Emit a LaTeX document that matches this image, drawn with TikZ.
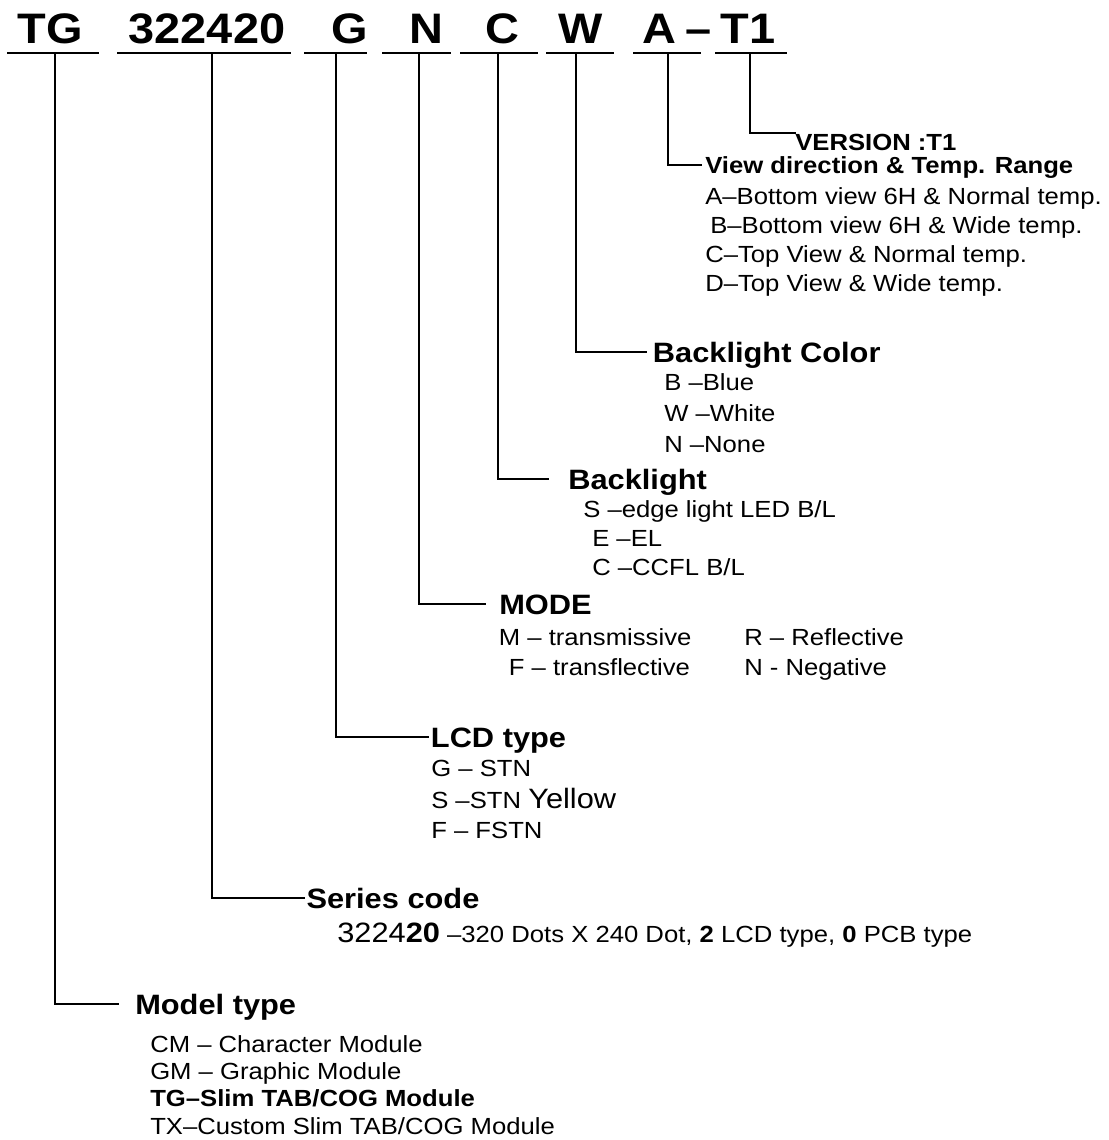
\documentclass[tikz,border=0pt]{standalone}
\usepackage{fontspec}
\setmainfont[FakeStretch=1.1]{Liberation Sans}
\usetikzlibrary{positioning,calc}

\begin{document}
\begin{tikzpicture}[x=0.75pt, y=-0.75pt,
        codeChar/.style={anchor=base, inner sep=0pt, font=\bfseries\fontsize{32}{36}\selectfont},
        bigHead/.style={anchor=west, inner ysep=0pt, text height=15pt, text depth=0pt, font=\bfseries\fontsize{21}{24}\selectfont},
        smallHead/.style={anchor=west, inner ysep=0pt, text height=12.5pt, text depth=0pt, font=\bfseries\fontsize{17.5}{21}\selectfont},
        optList/.style={anchor=base west, inner sep=0pt, align=left, font=\fontsize{17.5}{22}\selectfont},
        rule/.style={line width=1.5pt, line cap=rect}
    ]
        \useasboundingbox (0,0) rectangle (1109,1140);

        % Part number
        \node[codeChar] (cTG) at (50.5,43) {TG};
        \node[codeChar] (cSeries) at (207,43) {322420};
        \node[codeChar] (cLcd) at (350,43) {G};
        \node[codeChar] (cMode) at (426,43) {N};
        \node[codeChar] (cBl) at (502.5,43) {C};
        \node[codeChar] (cColor) at (581,43) {W};
        \node[codeChar] (cView) at (659.5,43) {A};
        \node[codeChar] (cDash) at (699,43) {–};
        \node[codeChar] (cVer) at (748,43) {T1};

        % Underlines
        \draw[rule] (8,53) -- (98,53);
        \draw[rule] (118,53) -- (290,53);
        \draw[rule] (305,53) -- (366,53);
        \draw[rule] (383,53) -- (450,53);
        \draw[rule] (461,53) -- (537,53);
        \draw[rule] (547,53) -- (613,53);
        \draw[rule] (634,53) -- (700,53);
        \draw[rule] (716,53) -- (786,53);
        \coordinate (tapTG) at (55,53);
        \coordinate (tapSeries) at (212,53);
        \coordinate (tapLcd) at (336,53);
        \coordinate (tapMode) at (419,53);
        \coordinate (tapBl) at (498,53);
        \coordinate (tapColor) at (576,53);
        \coordinate (tapView) at (668,53);
        \coordinate (tapVer) at (750,53);

        % Version (lists are placed by the baseline of their last line)
        \node[smallHead, inner xsep=0pt] (ver) at (795,142) {VERSION :T1};

        % View direction
        \node[smallHead, inner xsep=3pt] (view) at (701,165) {View direction \& Temp. Range};
        \node[optList, font=\fontsize{17.5}{21.75}\selectfont] (viewOpt) at (705,291) {
            A–Bottom view 6H \& Normal temp.\\
            \hspace*{3.75pt}B–Bottom view 6H \& Wide temp.\\
            C–Top View \& Normal temp.\\
            D–Top View \& Wide temp.
        };

        % Backlight colour
        \node[bigHead, inner xsep=5pt] (color) at (646,352) {Backlight Color};
        \node[optList, font=\fontsize{17.5}{23.25}\selectfont] (colorOpt) at (664,452) {
            B –Blue\\
            W –White\\
            N –None
        };

        % Backlight
        \node[bigHead, inner xsep=15pt] (bl) at (548,479) {Backlight};
        \node[optList, font=\fontsize{17.5}{21.75}\selectfont] (blOpt) at (583,575.5) {
            S –edge light LED B/L\\
            \hspace*{6.75pt}E –EL\\
            \hspace*{6.75pt}C –CCFL B/L
        };

        % Mode
        \node[bigHead, inner xsep=10.5pt] (mode) at (485,604) {MODE};
        \node[optList, font=\fontsize{17.5}{22.5}\selectfont] (modeOptL) at (498.6,675) {
            M – transmissive\\
            \hspace*{7.5pt}F – transflective
        };
        \node[optList, font=\fontsize{17.5}{22.5}\selectfont] (modeOptR) at (744,675) {
            R – Reflective\\
            N - Negative
        };

        % LCD type
        \node[bigHead, inner xsep=2pt] (lcd) at (428,737) {LCD type};
        \node[optList] (lcdOpt) at (431,838) {
            G – STN\\[2pt]
            S –STN {\fontsize{21}{24}\selectfont Yellow}\\
            F – FSTN
        };

        % Series code
        \node[bigHead, inner xsep=2pt] (series) at (303.6,898) {Series code};
        \node[optList] (seriesOpt) at (337,942) {
            {\fontsize{21}{24}\selectfont 3224\textbf{20}} –320 Dots X 240 Dot, \textbf{2} LCD type, \textbf{0} PCB type
        };

        % Model type
        \node[bigHead, inner xsep=12.75pt] (model) at (118,1004) {Model type};
        \node[optList, font=\fontsize{17.5}{20.5}\selectfont] (modelOpt) at (150,1134) {
            CM – Character Module\\
            GM – Graphic Module\\
            \textbf{TG–Slim TAB/COG Module}\\
            TX–Custom Slim TAB/COG Module
        };

        % Connectors
        \draw[rule] (tapVer) |- (ver.north west);
        \draw[rule] (tapView) |- (view.west);
        \draw[rule] (tapColor) |- (color.west);
        \draw[rule] (tapBl) |- (bl.west);
        \draw[rule] (tapMode) |- (mode.west);
        \draw[rule] (tapLcd) |- (lcd.west);
        \draw[rule] (tapSeries) |- (series.west);
        \draw[rule] (tapTG) |- (model.west);
    \end{tikzpicture}
\end{document}
